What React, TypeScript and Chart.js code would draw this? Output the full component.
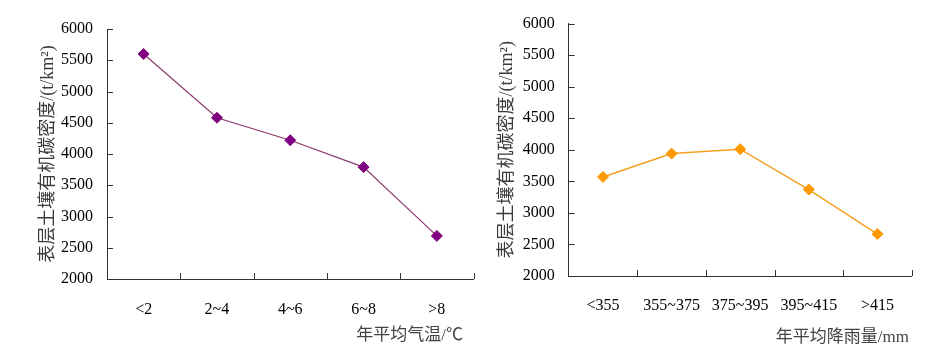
import React, { useEffect, useRef } from 'react';
import { Chart, registerables } from 'chart.js';

Chart.register(...registerables);

// ---- data ----
const yMin = 2000;
const yMax = 6000;
const yStep = 500;
const yTitle = '表层土壤有机碳密度/(t/km²)';

const tempCategories = ['<2', '2~4', '4~6', '6~8', '>8'];
const tempValues = [5600, 4580, 4220, 3790, 2690];
const tempXTitle = '年平均气温/℃';

const rainCategories = ['<355', '355~375', '375~395', '395~415', '>415'];
const rainValues = [3570, 3940, 4010, 3370, 2665];
const rainXTitle = '年平均降雨量/mm';

const SERIF = "'Liberation Serif', 'Times New Roman', 'Noto Sans CJK SC', serif";

const innerTicksPlugin = {
  id: 'innerTicks',
  beforeDatasetsDraw(chart: any) {
    const { ctx, chartArea, scales } = chart;
    const x = scales.x;
    const y = scales.y;
    ctx.save();
    ctx.strokeStyle = '#333';
    ctx.lineWidth = 1;
    ctx.beginPath();
    y.ticks.forEach((t: any) => {
      const py = Math.round(y.getPixelForValue(t.value)) + 0.5;
      ctx.moveTo(chartArea.left, py);
      ctx.lineTo(chartArea.left + 6, py);
    });
    const n = x.ticks.length;
    for (let i = 1; i <= n; i++) {
      const px = Math.round(x.getPixelForValue(i - 0.5)) + 0.5;
      ctx.moveTo(px, chartArea.bottom);
      ctx.lineTo(px, chartArea.bottom - 6);
    }
    ctx.stroke();
    ctx.restore();
  },
};

const axisNotePlugin = {
  id: 'axisNote',
  afterDraw(chart: any, _args: any, opts: any) {
    if (!opts || !opts.text) return;
    const { ctx, chartArea } = chart;
    ctx.save();
    ctx.font = `17px ${SERIF}`;
    ctx.fillStyle = '#444';
    ctx.textAlign = 'right';
    ctx.textBaseline = 'middle';
    ctx.fillText(opts.text, chartArea.right + opts.dx, opts.y);
    ctx.restore();
  },
};

type PanelProps = {
  left: number;
  width: number;
  categories: string[];
  values: number[];
  lineColor: string;
  pointColor: string;
  lineWidth: number;
  padTop: number;
  padRight: number;
  yWidth: number;
  xHeight: number;
  yTitlePad: number;
  xLabelPad: number;
  xTitle: string;
  xTitleDx: number;
  xTitleY: number;
};

function Panel(p: PanelProps) {
  const ref = useRef<HTMLCanvasElement>(null);
  useEffect(() => {
    if (!ref.current) return;
    const chart = new Chart(ref.current, {
      type: 'line',
      data: {
        labels: p.categories,
        datasets: [
          {
            data: p.values,
            borderColor: p.lineColor,
            borderWidth: p.lineWidth,
            pointStyle: 'rectRot',
            pointRadius: 5.5,
            pointBackgroundColor: p.pointColor,
            pointBorderColor: p.pointColor,
            pointBorderWidth: 1,
            tension: 0,
            fill: false,
          },
        ],
      },
      options: {
        responsive: false,
        animation: false,
        layout: { padding: { left: 0, top: p.padTop, right: p.padRight, bottom: 0 } },
        plugins: {
          legend: { display: false },
          tooltip: { enabled: false },
          axisNote: { text: p.xTitle, dx: p.xTitleDx, y: p.xTitleY },
        } as any,
        scales: {
          x: {
            type: 'category',
            offset: true,
            grid: { display: false, drawTicks: false },
            border: { display: true, color: '#333', width: 1 },
            ticks: {
              color: '#000',
              font: { family: SERIF, size: 16 },
              padding: p.xLabelPad,
              maxRotation: 0,
              autoSkip: false,
            },
            afterFit: (s: any) => {
              s.height = p.xHeight;
            },
          },
          y: {
            type: 'linear',
            min: yMin,
            max: yMax,
            grid: { display: false, drawTicks: false },
            border: { display: true, color: '#333', width: 1 },
            ticks: {
              stepSize: yStep,
              color: '#000',
              font: { family: SERIF, size: 16 },
              padding: 14,
              callback: (v: any) => String(v),
            },
            title: {
              display: true,
              text: yTitle,
              color: '#3a3a3a',
              font: { family: SERIF, size: 18 },
              padding: { top: p.yTitlePad, bottom: 0 },
            },
            afterFit: (s: any) => {
              s.width = p.yWidth;
            },
          },
        },
      },
      plugins: [innerTicksPlugin, axisNotePlugin],
    });
    return () => chart.destroy();
  }, []);
  return (
    <canvas
      ref={ref}
      width={p.width}
      height={354}
      style={{ position: 'absolute', left: p.left, top: 0, display: 'block' }}
    />
  );
}

export default function App() {
  return (
    <div style={{ position: 'absolute', left: 0, top: 0, width: 936, height: 354, background: '#fff' }}>
      <Panel
        left={0}
        width={480}
        categories={tempCategories}
        values={tempValues}
        lineColor="#8b3a6e"
        pointColor="#800080"
        lineWidth={1.2}
        padTop={29}
        padRight={6.5}
        yWidth={107}
        xHeight={75}
        yTitlePad={37}
        xLabelPad={21}
        xTitle={tempXTitle}
        xTitleDx={-10.5}
        xTitleY={336}
      />
      <Panel
        left={480}
        width={456}
        categories={rainCategories}
        values={rainValues}
        lineColor="#f5a020"
        pointColor="#ff9900"
        lineWidth={1.5}
        padTop={22.3}
        padRight={24.3}
        yWidth={88.7}
        xHeight={78}
        yTitlePad={16}
        xLabelPad={20}
        xTitle={rainXTitle}
        xTitleDx={-2.7}
        xTitleY={338}
      />
    </div>
  );
}
